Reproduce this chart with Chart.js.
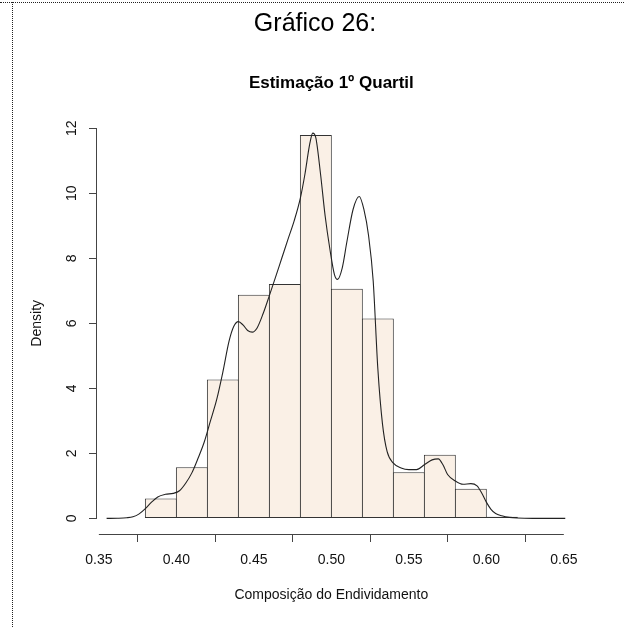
<!DOCTYPE html>
<html>
<head>
<meta charset="utf-8">
<script src="https://cdn.jsdelivr.net/npm/chart.js@4.4.1/dist/chart.umd.min.js"></script>
<style>
  html, body { margin: 0; padding: 0; background: #fff; }
  #wrap { position: relative; width: 624px; height: 627px; overflow: hidden; }
  #wrap canvas { position: absolute; left: 0; top: 0; }
  .dot-h { position: absolute; left: 0; top: 2px; width: 624px; border-top: 1px dotted #222; }
  .dot-v { position: absolute; left: 12px; top: 2px; height: 625px; border-left: 1px dotted #222; }
  .heading {
    position: absolute; left: 215px; top: 7px; width: 200px; text-align: center;
    font-family: 'Liberation Sans', Arial, sans-serif; font-size: 25px; line-height: 30px; color: #000;
  }
</style>
</head>
<body>
<div id="wrap">
  <canvas id="hist" width="624" height="627"></canvas>
  <div class="dot-h"></div>
  <div class="dot-v"></div>
  <div class="heading">Gráfico 26:</div>
</div>
<script>
// histogram bins (centres, width 0.02) and their densities
const binCenters = [0.39, 0.41, 0.43, 0.45, 0.47, 0.49, 0.51, 0.53, 0.55, 0.57, 0.59, 0.61];
const binDensity = [0.61, 1.57, 4.27, 6.88, 7.21, 11.79, 7.06, 6.15, 1.42, 1.96, 0.91, 0.05];

// kernel density curve
const curveX = [0.355, 0.362, 0.368, 0.372, 0.376, 0.380, 0.384, 0.388, 0.393, 0.398,
  0.402, 0.406, 0.410, 0.414, 0.418, 0.422, 0.426, 0.430, 0.434, 0.437,
  0.440, 0.443, 0.446, 0.449, 0.452, 0.456, 0.460, 0.464, 0.468, 0.472,
  0.476, 0.480, 0.483, 0.486, 0.488, 0.490, 0.493, 0.496, 0.499, 0.502,
  0.504, 0.507, 0.510, 0.514, 0.518, 0.521, 0.524, 0.527, 0.530, 0.533,
  0.536, 0.540, 0.545, 0.550, 0.555, 0.560, 0.565, 0.569, 0.572, 0.575,
  0.580, 0.585, 0.590, 0.594, 0.597, 0.600, 0.603, 0.606, 0.610, 0.615,
  0.620, 0.630, 0.651];
const curveY = [0, 0.005, 0.02, 0.05, 0.14, 0.30, 0.50, 0.66, 0.74, 0.77,
  0.85, 1.08, 1.40, 1.85, 2.35, 3.00, 3.65, 4.50, 5.45, 5.90,
  6.05, 5.95, 5.78, 5.73, 5.85, 6.30, 6.85, 7.42, 8.0, 8.58,
  9.15, 9.85, 10.6, 11.5, 11.85, 11.7, 10.6, 9.3, 8.3, 7.5,
  7.35, 7.7, 8.5, 9.5, 9.9, 9.5, 8.7, 7.3, 4.6, 2.9,
  2.05, 1.70, 1.55, 1.50, 1.50, 1.65, 1.80, 1.83, 1.65, 1.35,
  1.15, 1.05, 1.07, 1.0, 0.78, 0.50, 0.28, 0.15, 0.08, 0.03,
  0.01, 0.0, 0];

const xTicks = [0.35, 0.40, 0.45, 0.50, 0.55, 0.60, 0.65];
const yTicks = [0, 2, 4, 6, 8, 10, 12];

const linen = "#FAF0E6";
const ink = "#111";
const axisGray = "#444";
const fontFamily = "'Liberation Sans', Arial, sans-serif";

Chart.defaults.font.family = fontFamily;
Chart.defaults.color = ink;

// R style axes: line only from first to last tick, rotated y labels
const rAxes = {
  id: "rAxes",
  afterDraw(chart) {
    const { ctx, chartArea, scales } = chart;
    const x = scales.x;
    const y = scales.y;
    ctx.save();
    ctx.strokeStyle = axisGray;
    ctx.lineWidth = 1;
    ctx.beginPath();
    const yb = Math.round(chartArea.bottom) + 0.5;
    ctx.moveTo(x.getPixelForValue(xTicks[0]), yb);
    ctx.lineTo(x.getPixelForValue(xTicks[xTicks.length - 1]), yb);
    const xl = Math.round(chartArea.left) - 0.5;
    ctx.moveTo(xl, y.getPixelForValue(yTicks[0]));
    ctx.lineTo(xl, y.getPixelForValue(yTicks[yTicks.length - 1]));
    ctx.stroke();

    ctx.fillStyle = ink;
    ctx.font = "14px " + fontFamily;
    ctx.textAlign = "center";
    ctx.textBaseline = "middle";
    yTicks.forEach((v) => {
      ctx.save();
      ctx.translate(72, y.getPixelForValue(v));
      ctx.rotate(-Math.PI / 2);
      ctx.fillText(String(v), 0, 0);
      ctx.restore();
    });
    ctx.restore();
  },
};

const ctx = document.getElementById("hist").getContext("2d");
new Chart(ctx, {
  type: "bar",
  data: {
    datasets: [
      {
        type: "line",
        label: "density",
        data: curveX.map((v, i) => ({ x: v, y: curveY[i] })),
        borderColor: "#222",
        borderWidth: 1.1,
        pointRadius: 0,
        fill: false,
        cubicInterpolationMode: "monotone",
        order: 0,
      },
      {
        label: "hist",
        data: binCenters.map((c, i) => ({ x: c, y: binDensity[i] })),
        backgroundColor: linen,
        borderColor: "#333",
        borderWidth: 1,
        borderSkipped: false,
        barPercentage: 1.03,
        categoryPercentage: 1,
        order: 1,
      },
    ],
  },
  options: {
    responsive: false,
    animation: false,
    devicePixelRatio: 1,
    layout: { padding: { left: 0, right: 58.3, top: 0, bottom: 0 } },
    scales: {
      x: {
        type: "linear",
        offset: false,
        min: 0.3488,
        max: 0.6512,
        afterBuildTicks: (scale) => {
          scale.ticks = xTicks.map((v) => ({ value: v }));
        },
        afterFit: (scale) => {
          scale.height = 93;
        },
        grid: {
          drawOnChartArea: false,
          drawTicks: true,
          tickLength: 8,
          color: axisGray,
        },
        border: { display: false },
        ticks: {
          autoSkip: false,
          maxRotation: 0,
          padding: 10,
          font: { size: 14 },
          color: ink,
          callback: (v) => Number(v).toFixed(2),
        },
        title: {
          display: true,
          text: "Composição do Endividamento",
          font: { size: 14 },
          color: ink,
          padding: { top: 0, bottom: 23.6 },
        },
      },
      y: {
        min: -0.48,
        max: 12.48,
        afterBuildTicks: (scale) => {
          scale.ticks = yTicks.map((v) => ({ value: v }));
        },
        afterFit: (scale) => {
          scale.width = 97;
        },
        grid: {
          drawOnChartArea: false,
          drawTicks: true,
          tickLength: 8,
          color: axisGray,
        },
        border: { display: false },
        ticks: { display: false },
        title: {
          display: true,
          text: "Density",
          font: { size: 14 },
          color: ink,
          padding: { top: 28.3, bottom: 0 },
        },
      },
    },
    plugins: {
      legend: { display: false },
      tooltip: { enabled: false },
      title: { display: false },
      subtitle: {
        display: true,
        fullSize: false,
        text: "Estimação 1º Quartil",
        font: { size: 17, weight: "bold" },
        color: "#000",
        padding: { top: 73.6, bottom: 18.6 },
      },
    },
  },
  plugins: [rAxes],
});
</script>
</body>
</html>
